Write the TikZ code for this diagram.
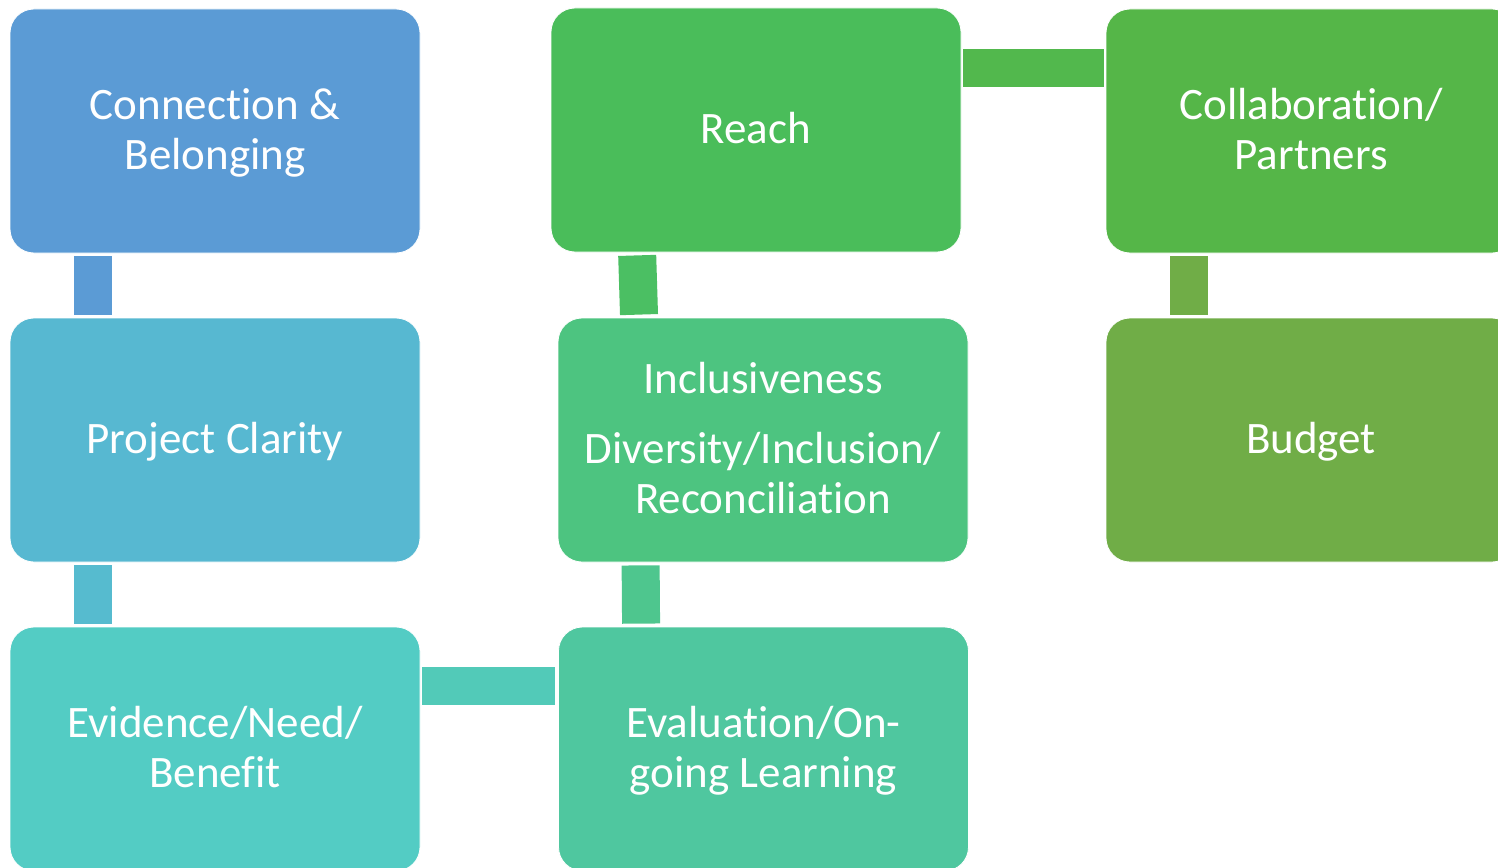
\documentclass[tikz,border=0pt]{standalone}
\usepackage{fontspec}
\setmainfont{Carlito}[Ligatures={NoCommon}]
\newcommand\lsx{\rule[-12pt]{0pt}{50pt}}
\definecolor{cA}{RGB}{91,155,213}
\definecolor{cB}{RGB}{87,184,209}
\definecolor{cC}{RGB}{83,204,196}
\definecolor{cD}{RGB}{79,199,159}
\definecolor{cE}{RGB}{77,196,128}
\definecolor{cF}{RGB}{74,189,90}
\definecolor{cG}{RGB}{85,182,72}
\definecolor{cH}{RGB}{112,173,71}
\definecolor{kB}{RGB}{86,187,207}
\definecolor{kC}{RGB}{82,202,184}
\definecolor{kD}{RGB}{78,198,142}
\definecolor{kE}{RGB}{75,191,99}
\definecolor{kF}{RGB}{82,184,77}
\tikzset{
  boxnode/.style={rectangle, rounded corners=24pt, minimum width=410pt, minimum height=244pt,
    inner sep=0pt, draw=white, line width=0.8pt, text=white, align=center,
    font=\fontsize{45pt}{50pt}\selectfont},
  conn/.style={line width=38pt, line cap=butt, shorten <=3pt, shorten >=3pt}
}
\begin{document}
\begin{tikzpicture}[x=1pt,y=-1pt]
\useasboundingbox (0,0) rectangle (1498,867);
\clip (0,0) rectangle (1498,867);
\node[boxnode, fill=cA] (b1) at (215,131) {\lsx Connection \&\\\lsx Belonging};
\node[boxnode, fill=cB] (b2) at (215,440) {\lsx Project Clarity};
\node[boxnode, fill=cC] (b3) at (215,749) {\lsx Evidence/Need/\\\lsx Benefit};
\node[boxnode, fill=cD] (b4) at (763.5,749) {\lsx Evaluation/On-\\\lsx going Learning};
\node[boxnode, fill=cE] (b5) at (763,440) {\lsx Inclusiveness\\[20pt]\lsx Diversity/Inclusion/\\\lsx Reconciliation};
\node[boxnode, fill=cF] (b6) at (756,130) {\lsx Reach};
\node[boxnode, fill=cG] (b7) at (1311,131) {\lsx Collaboration/\\\lsx Partners};
\node[boxnode, fill=cH] (b8) at (1311,440) {\lsx Budget};
\draw[conn, cA] ([xshift=83pt]b1.south west) -- ([xshift=83pt]b2.north west);
\draw[conn, kB] ([xshift=83pt]b2.south west) -- ([xshift=83pt]b3.north west);
\draw[conn, kC, shorten <=2pt] ([yshift=-59pt]b3.north east) -- ([yshift=-59pt]b4.north west);
\draw[conn, kD] ([xshift=83pt]b4.north west) -- ([xshift=83pt]b5.south west);
\draw[conn, kE] ([xshift=81.5pt]b5.north west) -- ([xshift=86.5pt]b6.south west);
\draw[conn, kF, shorten <=2pt, shorten >=2pt] ([yshift=-60pt]b6.north east) -- ([yshift=-59pt]b7.north west);
\draw[conn, cH] ([xshift=83pt]b7.south west) -- ([xshift=83pt]b8.north west);
\end{tikzpicture}
\end{document}
